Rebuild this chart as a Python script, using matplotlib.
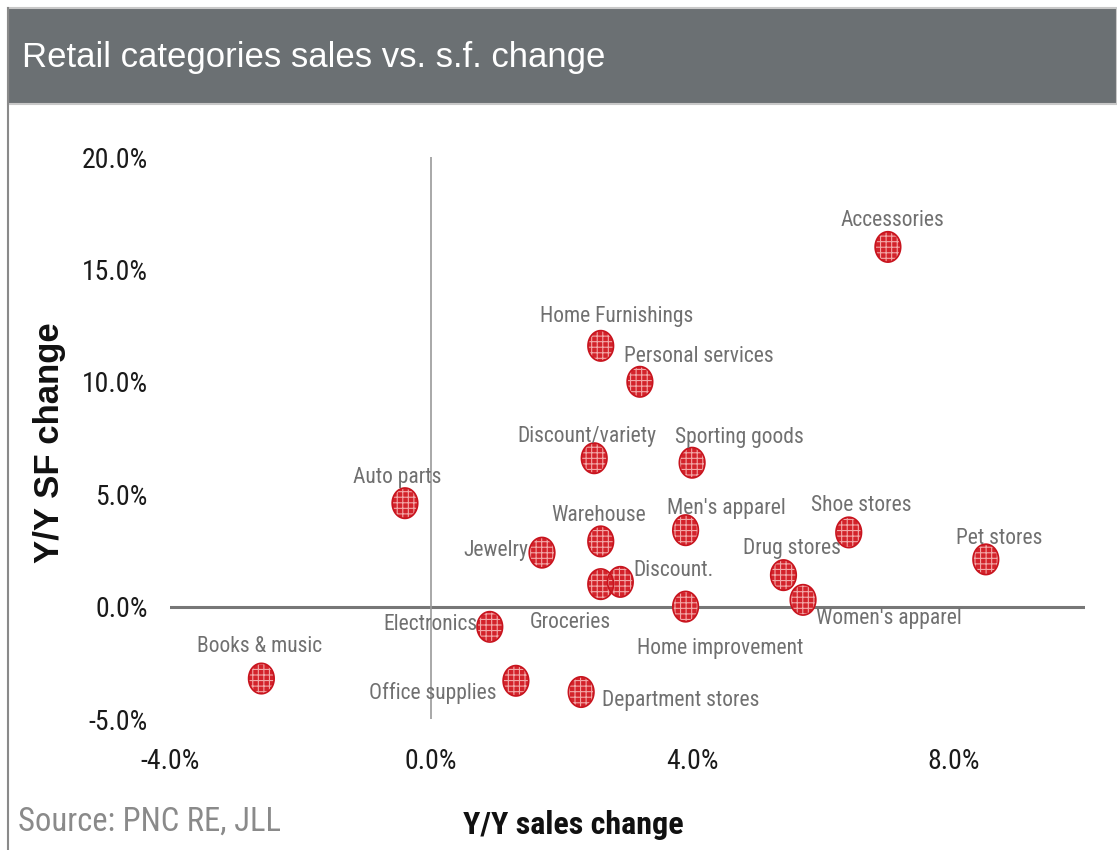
import matplotlib
matplotlib.use("Agg")
import matplotlib.pyplot as plt
import numpy as np
from matplotlib.path import Path
from matplotlib.patches import Rectangle
from matplotlib.lines import Line2D
from matplotlib.ticker import FuncFormatter
from matplotlib import font_manager as fm

plt.rcParams['hatch.linewidth'] = 0.8
plt.rcParams['hatch.color'] = '#f3a6a6'

categories = ["Accessories", "Home Furnishings", "Personal services", "Discount/variety",
              "Sporting goods", "Auto parts", "Warehouse", "Men's apparel", "Shoe stores",
              "Pet stores", "Jewelry", "Discount.", "Groceries", "Drug stores",
              "Women's apparel", "Home improvement", "Electronics", "Books & music",
              "Office supplies", "Department stores"]
sales_change = [7.0, 2.6, 3.2, 2.5, 4.0, -0.4, 2.6, 3.9, 6.4, 8.5, 1.7, 2.9, 2.6, 5.4,
                5.7, 3.9, 0.9, -2.6, 1.3, 2.3]
sf_change = [16.0, 11.6, 10.0, 6.6, 6.4, 4.6, 2.9, 3.4, 3.3, 2.1, 2.4, 1.1, 1.0, 1.4,
             0.3, 0.0, -0.9, -3.2, -3.3, -3.8]

x_ticks = [-4.0, 0.0, 4.0, 8.0]
y_ticks = [-5.0, 0.0, 5.0, 10.0, 15.0, 20.0]

# label offsets (pixels) and alignment
label_style = {
    "Accessories": (5, 26, 'center'),
    "Home Furnishings": (16, 29, 'center'),
    "Personal services": (59, 25, 'center'),
    "Discount/variety": (-7, 22, 'center'),
    "Sporting goods": (47, 25, 'center'),
    "Auto parts": (-8, 26, 'center'),
    "Warehouse": (-2, 26, 'center'),
    "Men's apparel": (41, 22, 'center'),
    "Shoe stores": (13, 27, 'center'),
    "Pet stores": (13, 21, 'center'),
    "Jewelry": (-14, 2, 'right'),
    "Discount.": (13, 11, 'left'),
    "Groceries": (-30, -38, 'center'),
    "Drug stores": (8, 27, 'center'),
    "Women's apparel": (13, -19, 'left'),
    "Home improvement": (35, -42, 'center'),
    "Electronics": (-12, 2, 'right'),
    "Books & music": (-2, 32, 'center'),
    "Office supplies": (-19, -12, 'right'),
    "Department stores": (21, -8, 'left'),
}


def find_narrow(bold=False):
    """Find an installed condensed/narrow sans font file."""
    prefs = ['liberation sans narrow', 'arial narrow', 'roboto condensed',
             'open sans condensed', 'dejavu sans condensed', 'noto sans condensed']
    cands = []
    for f in fm.fontManager.ttflist:
        nm = f.name.lower()
        fn = f.fname.lower()
        st = str(f.stretch).lower()
        is_narrow = ('narrow' in nm or 'condensed' in nm or 'narrow' in fn
                     or 'condensed' in fn or st in ('condensed', 'semi-condensed'))
        if not is_narrow:
            continue
        if 'semicondensed' in fn or 'extracondensed' in fn:
            continue
        w = f.weight if isinstance(f.weight, int) else (700 if 'bold' in str(f.weight) else 400)
        is_bold = w >= 600 or 'bold' in fn
        if is_bold != bold:
            continue
        if f.style != 'normal' or 'italic' in fn or 'oblique' in fn:
            continue
        rank = len(prefs)
        for i, p in enumerate(prefs):
            if p in nm or p.replace(' ', '') in fn.replace('-', '').replace('_', ''):
                rank = i
                break
        if 'light' in fn or 'thin' in fn or 'medium' in fn or 'black' in fn:
            rank += 10
        cands.append((rank, f.fname))
    cands.sort()
    return cands[0][1] if cands else None


nf = find_narrow(False)
nbf = find_narrow(True)
if nf:
    NARROW = fm.FontProperties(fname=nf)
    nscale = 1.0
else:
    NARROW = fm.FontProperties(family=['Liberation Sans', 'DejaVu Sans'])
    nscale = 0.84
if nbf:
    NARROW_B = fm.FontProperties(fname=nbf)
    bscale = 1.0
else:
    NARROW_B = fm.FontProperties(family=['Liberation Sans', 'DejaVu Sans'], weight='bold')
    bscale = 0.84


def fp(base, size):
    p = base.copy()
    p.set_size(size)
    return p


SANS = ['Liberation Sans', 'DejaVu Sans']

W, H = 1117, 850
fig = plt.figure(figsize=(W / 100, H / 100), dpi=100)
fig.patch.set_facecolor('white')

# banner
fig.patches.append(Rectangle((8 / W, 1 - 104 / H), 1 - 8 / W, 96 / H, transform=fig.transFigure,
                             facecolor='#6b7073', edgecolor='#c8c8c8', linewidth=1.5, zorder=0))
fig.text(22 / W, 1 - 58 / H, "Retail categories sales vs. s.f. change", color='white',
         fontsize=25, family=SANS, va='center', ha='left')
# left frame line
fig.lines.append(Line2D([8 / W, 8 / W], [0, 1 - 8 / H], transform=fig.transFigure,
                        color='#8a8a8a', linewidth=1.5))

ax = fig.add_axes([170 / W, 131 / H, (1085 - 170) / W, (719 - 157) / H])
ax.set_xlim(-4.0, 10.02)
ax.set_ylim(-5.0, 20.0)
for s in ax.spines.values():
    s.set_visible(False)
ax.axhline(0, color='#777777', linewidth=2.2, zorder=1)
ax.axvline(0, color='#9a9a9a', linewidth=1.2, zorder=1)

ax.set_xticks(x_ticks)
ax.set_yticks(y_ticks)
fmt = FuncFormatter(lambda v, p: f"{v:.1f}%")
ax.xaxis.set_major_formatter(fmt)
ax.yaxis.set_major_formatter(fmt)
ax.tick_params(axis='both', length=0, labelcolor='#1a1a1a')
ax.tick_params(axis='y', pad=16)
ax.tick_params(axis='x', pad=21)
for lab in ax.get_xticklabels() + ax.get_yticklabels():
    lab.set_fontproperties(fp(NARROW, 20 * nscale))

# elliptical marker
t = np.linspace(0, 2 * np.pi, 60)
verts = np.column_stack([0.84 * np.cos(t), np.sin(t)])
ell = Path(verts, closed=True)

ax.scatter(sales_change, sf_change, marker=ell, s=480, facecolor='#d3232b',
           edgecolor='#f3a6a6', linewidth=0, hatch='+++', zorder=3)
ax.scatter(sales_change, sf_change, marker=ell, s=480, facecolor='none',
           edgecolor='#c8141e', linewidth=1.2, zorder=4)

for name, xv, yv in zip(categories, sales_change, sf_change):
    dx, dy, ha = label_style[name]
    ax.annotate(name, (xv, yv), xytext=(dx, dy), textcoords='offset pixels',
                ha=ha, va='center', color='#707070', fontproperties=fp(NARROW, 15.5 * nscale),
                zorder=5)

fig.text(573 / W, 1 - 825 / H, "Y/Y sales change", fontproperties=fp(NARROW_B, 23 * bscale),
         color='#111111', ha='center', va='center')
fig.text(50 / W, 1 - 443 / H, "Y/Y SF change", fontsize=25, fontweight='bold',
         family=SANS, color='#111111', ha='center', va='center', rotation=90)
fig.text(18 / W, 1 - 822 / H, "Source: PNC RE, JLL", fontproperties=fp(NARROW, 23.5 * nscale),
         color='#8a8a8a', ha='left', va='center')

fig.savefig("out.png", dpi=100, facecolor='white')
